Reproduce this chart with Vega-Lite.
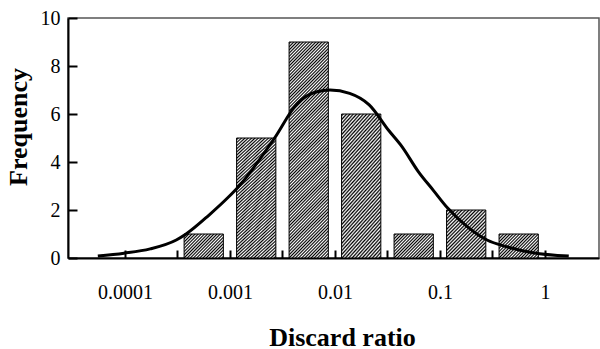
{
"$schema": "https://vega.github.io/schema/vega-lite/v6.json",
"width": 531,
"height": 240,
"autosize": {"type": "none"},
"padding": {"left": 68, "top": 18, "right": 1, "bottom": 91},
"background": "white",
"config": {"view": {"stroke": "#555", "strokeWidth": 1.5}, "font": "Liberation Serif", "axis": {"labelFont": "Liberation Serif", "titleFont": "Liberation Serif"}},
"datasets": {
"bins": [
{"lo": 0.0003656, "hi": 0.000865, "count": 1},
{"lo": 0.001156, "hi": 0.002735, "count": 5},
{"lo": 0.003656, "hi": 0.00865, "count": 9},
{"lo": 0.01156, "hi": 0.02735, "count": 6},
{"lo": 0.03656, "hi": 0.0865, "count": 1},
{"lo": 0.1156, "hi": 0.2735, "count": 2},
{"lo": 0.3656, "hi": 0.865, "count": 1}
],
"curve": [
{"ratio": 0.0000551, "freq": 0.08},
{"ratio": 0.0000979, "freq": 0.2},
{"ratio": 0.0001738, "freq": 0.38},
{"ratio": 0.000308, "freq": 0.75},
{"ratio": 0.000382, "freq": 1.0},
{"ratio": 0.000632, "freq": 1.79},
{"ratio": 0.000973, "freq": 2.55},
{"ratio": 0.001205, "freq": 2.97},
{"ratio": 0.00265, "freq": 4.99},
{"ratio": 0.00439, "freq": 6.45},
{"ratio": 0.00675, "freq": 6.93},
{"ratio": 0.00897, "freq": 7.0},
{"ratio": 0.0138, "freq": 6.86},
{"ratio": 0.0212, "freq": 6.38},
{"ratio": 0.0327, "freq": 5.3},
{"ratio": 0.04345, "freq": 4.64},
{"ratio": 0.0622, "freq": 3.6},
{"ratio": 0.0861, "freq": 2.83},
{"ratio": 0.119, "freq": 2.07},
{"ratio": 0.183, "freq": 1.3},
{"ratio": 0.281, "freq": 0.75},
{"ratio": 0.433, "freq": 0.47},
{"ratio": 0.767, "freq": 0.22},
{"ratio": 1.687, "freq": 0.08}
]
},
"layer": [
{
"data": {"name": "bins"},
"mark": {"type": "bar", "stroke": "#000", "strokeWidth": 1, "orient": "vertical"},
"encoding": {
"x": {"field": "lo", "type": "quantitative",
"scale": {"type": "log", "domain": [0.00003197, 2.934], "nice": false},
"axis": {"title": "Discard ratio", "grid": false,
"values": [0.0001, 0.00031623, 0.001, 0.0031623, 0.01, 0.031623, 0.1, 0.31623, 1],
"format": ".4~f",
"labelExpr": "datum.value==0.0001||datum.value==0.001||datum.value==0.01||datum.value==0.1||datum.value==1 ? datum.label : ''",
"labelFlush": false, "labelOverlap": false,
"tickSize": -8, "tickWidth": 2, "tickColor": "#000",
"domainColor": "#000", "domainWidth": 2,
"labelFont": "Liberation Serif", "labelFontSize": 20, "labelColor": "#000", "labelPadding": 32,
"titleFont": "Liberation Serif", "titleFontSize": 26, "titleFontWeight": "bold", "titleColor": "#000",
"titleX": 274, "titleY": 87, "titleBaseline": "alphabetic", "titleAlign": "center"}},
"x2": {"field": "hi"},
"y": {"field": "count", "type": "quantitative",
"scale": {"domain": [0, 10], "nice": false},
"axis": {"title": "Frequency", "grid": false,
"values": [0, 1, 2, 3, 4, 5, 6, 7, 8, 9, 10],
"labelExpr": "datum.value % 2 == 0 ? datum.label : ''",
"labelOverlap": false,
"tickSize": {"condition": {"test": "datum.value % 2 == 0", "value": -9}, "value": -5},
"tickWidth": 2, "tickColor": "#000",
"domainColor": "#000", "domainWidth": 2,
"labelFont": "Liberation Serif", "labelFontSize": 20, "labelColor": "#000", "labelPadding": 17,
"titleFont": "Liberation Serif", "titleFontSize": 26, "titleFontWeight": "bold", "titleColor": "#000",
"titleX": -42, "titleY": 108.5, "titleBaseline": "alphabetic", "titleAlign": "center", "titleAngle": -90}},
"y2": {"datum": 0},
"fill": {
"condition": [
{"test": "datum.count == 1", "value": {"gradient": "linear", "x1": 0, "y1": 0, "x2": 1.176, "y2": 0.706, "stops": [
{"offset":0,"color":"#fff"},{"offset":0.025,"color":"#000"},{"offset":0.05,"color":"#fff"},{"offset":0.075,"color":"#000"},{"offset":0.1,"color":"#fff"},{"offset":0.125,"color":"#000"},{"offset":0.15,"color":"#fff"},{"offset":0.175,"color":"#000"},{"offset":0.2,"color":"#fff"},{"offset":0.225,"color":"#000"},{"offset":0.25,"color":"#fff"},{"offset":0.275,"color":"#000"},{"offset":0.3,"color":"#fff"},{"offset":0.325,"color":"#000"},{"offset":0.35,"color":"#fff"},{"offset":0.375,"color":"#000"},{"offset":0.4,"color":"#fff"},{"offset":0.425,"color":"#000"},{"offset":0.45,"color":"#fff"},{"offset":0.475,"color":"#000"},{"offset":0.5,"color":"#fff"},{"offset":0.525,"color":"#000"},{"offset":0.55,"color":"#fff"},{"offset":0.575,"color":"#000"},{"offset":0.6,"color":"#fff"},{"offset":0.625,"color":"#000"},{"offset":0.65,"color":"#fff"},{"offset":0.675,"color":"#000"},{"offset":0.7,"color":"#fff"},{"offset":0.725,"color":"#000"},{"offset":0.75,"color":"#fff"},{"offset":0.775,"color":"#000"},{"offset":0.8,"color":"#fff"},{"offset":0.825,"color":"#000"},{"offset":0.85,"color":"#fff"},{"offset":0.875,"color":"#000"},{"offset":0.9,"color":"#fff"},{"offset":0.925,"color":"#000"},{"offset":0.95,"color":"#fff"},{"offset":0.975,"color":"#000"},{"offset":1,"color":"#fff"}]}},
{"test": "datum.count == 2", "value": {"gradient": "linear", "x1": 0, "y1": 0, "x2": 0.902, "y2": 1.082, "stops": [
{"offset":0,"color":"#fff"},{"offset":0.02,"color":"#000"},{"offset":0.04,"color":"#fff"},{"offset":0.06,"color":"#000"},{"offset":0.08,"color":"#fff"},{"offset":0.1,"color":"#000"},{"offset":0.12,"color":"#fff"},{"offset":0.14,"color":"#000"},{"offset":0.16,"color":"#fff"},{"offset":0.18,"color":"#000"},{"offset":0.2,"color":"#fff"},{"offset":0.22,"color":"#000"},{"offset":0.24,"color":"#fff"},{"offset":0.26,"color":"#000"},{"offset":0.28,"color":"#fff"},{"offset":0.3,"color":"#000"},{"offset":0.32,"color":"#fff"},{"offset":0.34,"color":"#000"},{"offset":0.36,"color":"#fff"},{"offset":0.38,"color":"#000"},{"offset":0.4,"color":"#fff"},{"offset":0.42,"color":"#000"},{"offset":0.44,"color":"#fff"},{"offset":0.46,"color":"#000"},{"offset":0.48,"color":"#fff"},{"offset":0.5,"color":"#000"},{"offset":0.52,"color":"#fff"},{"offset":0.54,"color":"#000"},{"offset":0.56,"color":"#fff"},{"offset":0.58,"color":"#000"},{"offset":0.6,"color":"#fff"},{"offset":0.62,"color":"#000"},{"offset":0.64,"color":"#fff"},{"offset":0.66,"color":"#000"},{"offset":0.68,"color":"#fff"},{"offset":0.7,"color":"#000"},{"offset":0.72,"color":"#fff"},{"offset":0.74,"color":"#000"},{"offset":0.76,"color":"#fff"},{"offset":0.78,"color":"#000"},{"offset":0.8,"color":"#fff"},{"offset":0.82,"color":"#000"},{"offset":0.84,"color":"#fff"},{"offset":0.86,"color":"#000"},{"offset":0.88,"color":"#fff"},{"offset":0.9,"color":"#000"},{"offset":0.92,"color":"#fff"},{"offset":0.94,"color":"#000"},{"offset":0.96,"color":"#fff"},{"offset":0.98,"color":"#000"},{"offset":1,"color":"#fff"}]}},
{"test": "datum.count == 9", "value": {"gradient": "linear", "x1": 0, "y1": 0, "x2": 0.212, "y2": 1.146, "stops": [
{"offset":0,"color":"#fff"},{"offset":0.00625,"color":"#000"},{"offset":0.0125,"color":"#fff"},{"offset":0.01875,"color":"#000"},{"offset":0.025,"color":"#fff"},{"offset":0.03125,"color":"#000"},{"offset":0.0375,"color":"#fff"},{"offset":0.04375,"color":"#000"},{"offset":0.05,"color":"#fff"},{"offset":0.05625,"color":"#000"},{"offset":0.0625,"color":"#fff"},{"offset":0.06875,"color":"#000"},{"offset":0.075,"color":"#fff"},{"offset":0.08125,"color":"#000"},{"offset":0.0875,"color":"#fff"},{"offset":0.09375,"color":"#000"},
{"offset":0.1,"color":"#fff"},{"offset":0.10625,"color":"#000"},{"offset":0.1125,"color":"#fff"},{"offset":0.11875,"color":"#000"},{"offset":0.125,"color":"#fff"},{"offset":0.13125,"color":"#000"},{"offset":0.1375,"color":"#fff"},{"offset":0.14375,"color":"#000"},{"offset":0.15,"color":"#fff"},{"offset":0.15625,"color":"#000"},{"offset":0.1625,"color":"#fff"},{"offset":0.16875,"color":"#000"},{"offset":0.175,"color":"#fff"},{"offset":0.18125,"color":"#000"},{"offset":0.1875,"color":"#fff"},{"offset":0.19375,"color":"#000"},
{"offset":0.2,"color":"#fff"},{"offset":0.20625,"color":"#000"},{"offset":0.2125,"color":"#fff"},{"offset":0.21875,"color":"#000"},{"offset":0.225,"color":"#fff"},{"offset":0.23125,"color":"#000"},{"offset":0.2375,"color":"#fff"},{"offset":0.24375,"color":"#000"},{"offset":0.25,"color":"#fff"},{"offset":0.25625,"color":"#000"},{"offset":0.2625,"color":"#fff"},{"offset":0.26875,"color":"#000"},{"offset":0.275,"color":"#fff"},{"offset":0.28125,"color":"#000"},{"offset":0.2875,"color":"#fff"},{"offset":0.29375,"color":"#000"},
{"offset":0.3,"color":"#fff"},{"offset":0.30625,"color":"#000"},{"offset":0.3125,"color":"#fff"},{"offset":0.31875,"color":"#000"},{"offset":0.325,"color":"#fff"},{"offset":0.33125,"color":"#000"},{"offset":0.3375,"color":"#fff"},{"offset":0.34375,"color":"#000"},{"offset":0.35,"color":"#fff"},{"offset":0.35625,"color":"#000"},{"offset":0.3625,"color":"#fff"},{"offset":0.36875,"color":"#000"},{"offset":0.375,"color":"#fff"},{"offset":0.38125,"color":"#000"},{"offset":0.3875,"color":"#fff"},{"offset":0.39375,"color":"#000"},
{"offset":0.4,"color":"#fff"},{"offset":0.40625,"color":"#000"},{"offset":0.4125,"color":"#fff"},{"offset":0.41875,"color":"#000"},{"offset":0.425,"color":"#fff"},{"offset":0.43125,"color":"#000"},{"offset":0.4375,"color":"#fff"},{"offset":0.44375,"color":"#000"},{"offset":0.45,"color":"#fff"},{"offset":0.45625,"color":"#000"},{"offset":0.4625,"color":"#fff"},{"offset":0.46875,"color":"#000"},{"offset":0.475,"color":"#fff"},{"offset":0.48125,"color":"#000"},{"offset":0.4875,"color":"#fff"},{"offset":0.49375,"color":"#000"},
{"offset":0.5,"color":"#fff"},{"offset":0.50625,"color":"#000"},{"offset":0.5125,"color":"#fff"},{"offset":0.51875,"color":"#000"},{"offset":0.525,"color":"#fff"},{"offset":0.53125,"color":"#000"},{"offset":0.5375,"color":"#fff"},{"offset":0.54375,"color":"#000"},{"offset":0.55,"color":"#fff"},{"offset":0.55625,"color":"#000"},{"offset":0.5625,"color":"#fff"},{"offset":0.56875,"color":"#000"},{"offset":0.575,"color":"#fff"},{"offset":0.58125,"color":"#000"},{"offset":0.5875,"color":"#fff"},{"offset":0.59375,"color":"#000"},
{"offset":0.6,"color":"#fff"},{"offset":0.60625,"color":"#000"},{"offset":0.6125,"color":"#fff"},{"offset":0.61875,"color":"#000"},{"offset":0.625,"color":"#fff"},{"offset":0.63125,"color":"#000"},{"offset":0.6375,"color":"#fff"},{"offset":0.64375,"color":"#000"},{"offset":0.65,"color":"#fff"},{"offset":0.65625,"color":"#000"},{"offset":0.6625,"color":"#fff"},{"offset":0.66875,"color":"#000"},{"offset":0.675,"color":"#fff"},{"offset":0.68125,"color":"#000"},{"offset":0.6875,"color":"#fff"},{"offset":0.69375,"color":"#000"},
{"offset":0.7,"color":"#fff"},{"offset":0.70625,"color":"#000"},{"offset":0.7125,"color":"#fff"},{"offset":0.71875,"color":"#000"},{"offset":0.725,"color":"#fff"},{"offset":0.73125,"color":"#000"},{"offset":0.7375,"color":"#fff"},{"offset":0.74375,"color":"#000"},{"offset":0.75,"color":"#fff"},{"offset":0.75625,"color":"#000"},{"offset":0.7625,"color":"#fff"},{"offset":0.76875,"color":"#000"},{"offset":0.775,"color":"#fff"},{"offset":0.78125,"color":"#000"},{"offset":0.7875,"color":"#fff"},{"offset":0.79375,"color":"#000"},
{"offset":0.8,"color":"#fff"},{"offset":0.80625,"color":"#000"},{"offset":0.8125,"color":"#fff"},{"offset":0.81875,"color":"#000"},{"offset":0.825,"color":"#fff"},{"offset":0.83125,"color":"#000"},{"offset":0.8375,"color":"#fff"},{"offset":0.84375,"color":"#000"},{"offset":0.85,"color":"#fff"},{"offset":0.85625,"color":"#000"},{"offset":0.8625,"color":"#fff"},{"offset":0.86875,"color":"#000"},{"offset":0.875,"color":"#fff"},{"offset":0.88125,"color":"#000"},{"offset":0.8875,"color":"#fff"},{"offset":0.89375,"color":"#000"},
{"offset":0.9,"color":"#fff"},{"offset":0.90625,"color":"#000"},{"offset":0.9125,"color":"#fff"},{"offset":0.91875,"color":"#000"},{"offset":0.925,"color":"#fff"},{"offset":0.93125,"color":"#000"},{"offset":0.9375,"color":"#fff"},{"offset":0.94375,"color":"#000"},{"offset":0.95,"color":"#fff"},{"offset":0.95625,"color":"#000"},{"offset":0.9625,"color":"#fff"},{"offset":0.96875,"color":"#000"},{"offset":0.975,"color":"#fff"},{"offset":0.98125,"color":"#000"},{"offset":0.9875,"color":"#fff"},{"offset":0.99375,"color":"#000"},
{"offset":1,"color":"#fff"}]}}
],
"value": {"gradient": "linear", "x1": 0, "y1": 0, "x2": 0.362, "y2": 1.193, "stops": [
{"offset":0,"color":"#fff"},{"offset":0.01,"color":"#000"},{"offset":0.02,"color":"#fff"},{"offset":0.03,"color":"#000"},{"offset":0.04,"color":"#fff"},{"offset":0.05,"color":"#000"},{"offset":0.06,"color":"#fff"},{"offset":0.07,"color":"#000"},{"offset":0.08,"color":"#fff"},{"offset":0.09,"color":"#000"},
{"offset":0.1,"color":"#fff"},{"offset":0.11,"color":"#000"},{"offset":0.12,"color":"#fff"},{"offset":0.13,"color":"#000"},{"offset":0.14,"color":"#fff"},{"offset":0.15,"color":"#000"},{"offset":0.16,"color":"#fff"},{"offset":0.17,"color":"#000"},{"offset":0.18,"color":"#fff"},{"offset":0.19,"color":"#000"},
{"offset":0.2,"color":"#fff"},{"offset":0.21,"color":"#000"},{"offset":0.22,"color":"#fff"},{"offset":0.23,"color":"#000"},{"offset":0.24,"color":"#fff"},{"offset":0.25,"color":"#000"},{"offset":0.26,"color":"#fff"},{"offset":0.27,"color":"#000"},{"offset":0.28,"color":"#fff"},{"offset":0.29,"color":"#000"},
{"offset":0.3,"color":"#fff"},{"offset":0.31,"color":"#000"},{"offset":0.32,"color":"#fff"},{"offset":0.33,"color":"#000"},{"offset":0.34,"color":"#fff"},{"offset":0.35,"color":"#000"},{"offset":0.36,"color":"#fff"},{"offset":0.37,"color":"#000"},{"offset":0.38,"color":"#fff"},{"offset":0.39,"color":"#000"},
{"offset":0.4,"color":"#fff"},{"offset":0.41,"color":"#000"},{"offset":0.42,"color":"#fff"},{"offset":0.43,"color":"#000"},{"offset":0.44,"color":"#fff"},{"offset":0.45,"color":"#000"},{"offset":0.46,"color":"#fff"},{"offset":0.47,"color":"#000"},{"offset":0.48,"color":"#fff"},{"offset":0.49,"color":"#000"},
{"offset":0.5,"color":"#fff"},{"offset":0.51,"color":"#000"},{"offset":0.52,"color":"#fff"},{"offset":0.53,"color":"#000"},{"offset":0.54,"color":"#fff"},{"offset":0.55,"color":"#000"},{"offset":0.56,"color":"#fff"},{"offset":0.57,"color":"#000"},{"offset":0.58,"color":"#fff"},{"offset":0.59,"color":"#000"},
{"offset":0.6,"color":"#fff"},{"offset":0.61,"color":"#000"},{"offset":0.62,"color":"#fff"},{"offset":0.63,"color":"#000"},{"offset":0.64,"color":"#fff"},{"offset":0.65,"color":"#000"},{"offset":0.66,"color":"#fff"},{"offset":0.67,"color":"#000"},{"offset":0.68,"color":"#fff"},{"offset":0.69,"color":"#000"},
{"offset":0.7,"color":"#fff"},{"offset":0.71,"color":"#000"},{"offset":0.72,"color":"#fff"},{"offset":0.73,"color":"#000"},{"offset":0.74,"color":"#fff"},{"offset":0.75,"color":"#000"},{"offset":0.76,"color":"#fff"},{"offset":0.77,"color":"#000"},{"offset":0.78,"color":"#fff"},{"offset":0.79,"color":"#000"},
{"offset":0.8,"color":"#fff"},{"offset":0.81,"color":"#000"},{"offset":0.82,"color":"#fff"},{"offset":0.83,"color":"#000"},{"offset":0.84,"color":"#fff"},{"offset":0.85,"color":"#000"},{"offset":0.86,"color":"#fff"},{"offset":0.87,"color":"#000"},{"offset":0.88,"color":"#fff"},{"offset":0.89,"color":"#000"},
{"offset":0.9,"color":"#fff"},{"offset":0.91,"color":"#000"},{"offset":0.92,"color":"#fff"},{"offset":0.93,"color":"#000"},{"offset":0.94,"color":"#fff"},{"offset":0.95,"color":"#000"},{"offset":0.96,"color":"#fff"},{"offset":0.97,"color":"#000"},{"offset":0.98,"color":"#fff"},{"offset":0.99,"color":"#000"},
{"offset":1,"color":"#fff"}]}
}
}
},
{
"data": {"name": "curve"},
"mark": {"type": "line", "interpolate": "monotone", "stroke": "#000", "strokeWidth": 3},
"encoding": {
"x": {"field": "ratio", "type": "quantitative"},
"y": {"field": "freq", "type": "quantitative"}
}
}
]
}
